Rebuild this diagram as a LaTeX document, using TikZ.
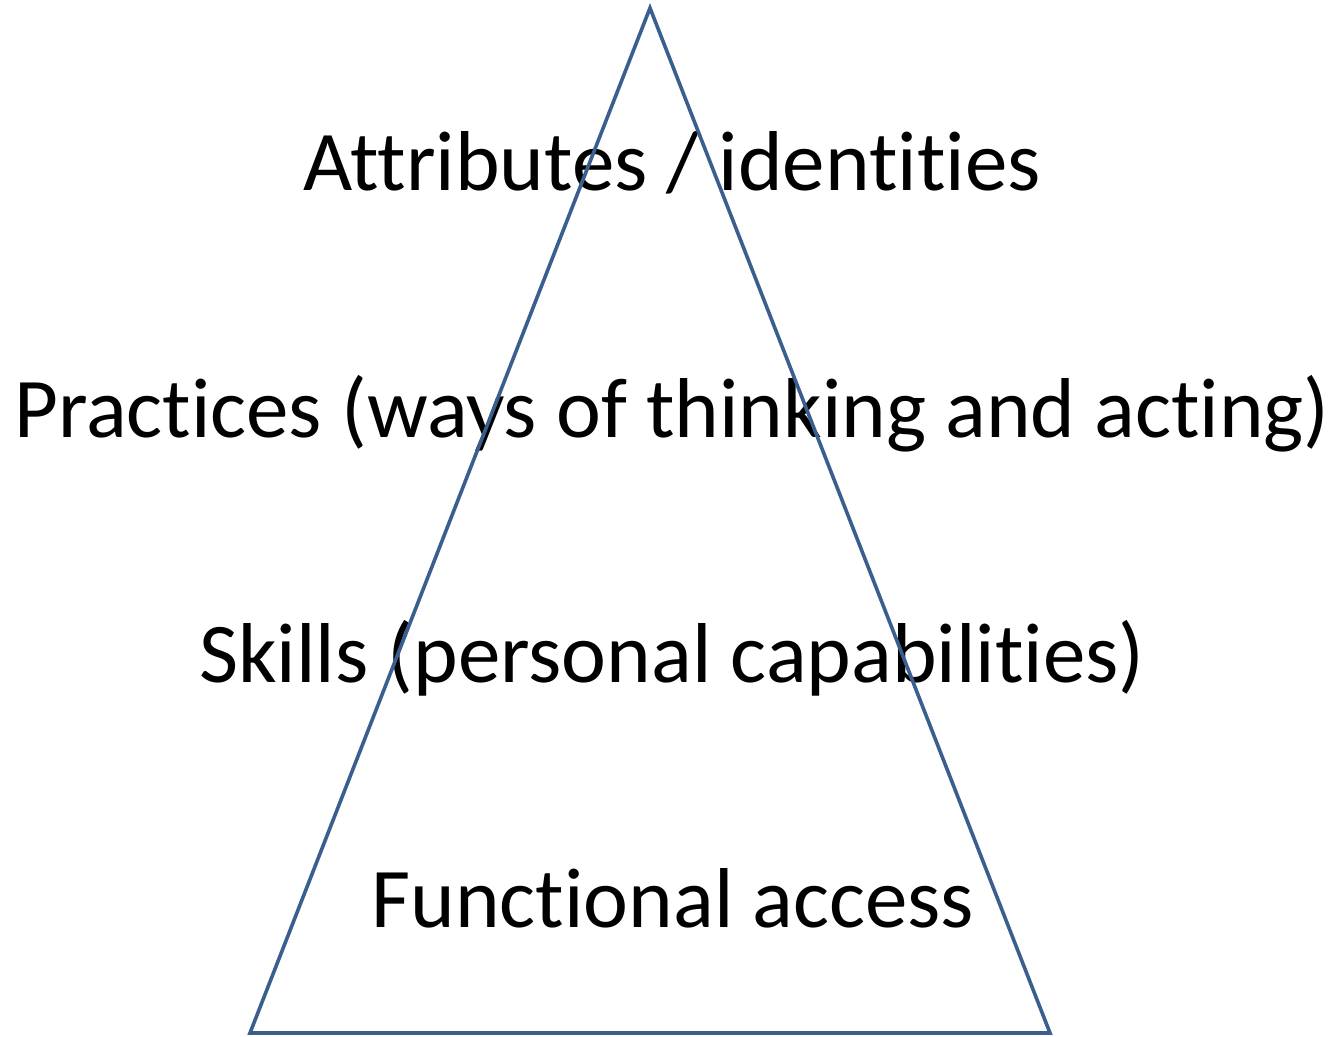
\documentclass[tikz,border=0pt]{standalone}
\usepackage{fontspec}
\setmainfont[Ligatures=NoCommon]{Carlito}
\definecolor{edgeblue}{HTML}{3A5F8F}
\tikzset{
  level/.style={anchor=base, inner sep=0pt, font=\fontsize{85}{100}\selectfont},
  pyramid/.style={draw=edgeblue, line width=3.6pt, line join=miter}
}
\begin{document}
\begin{tikzpicture}[x=1pt, y=-1pt]
      \useasboundingbox (0,0) rectangle (1335,1036);
      \node[level] (attr) at (672,190) {Attributes / identities};
      \node[level] (prac) at (672,437) {Practices (ways of thinking and acting)};
      \node[level] (skil) at (672,682) {Skills (personal capabilities)};
      \node[level] (func) at (673,927) {Functional access};
      \coordinate (apex) at (650,8);
      \coordinate (left) at (250,1033);
      \coordinate (right) at (1050,1033);
      \draw[pyramid] (apex) -- (right) -- (left) -- cycle;
    \end{tikzpicture}
\end{document}
